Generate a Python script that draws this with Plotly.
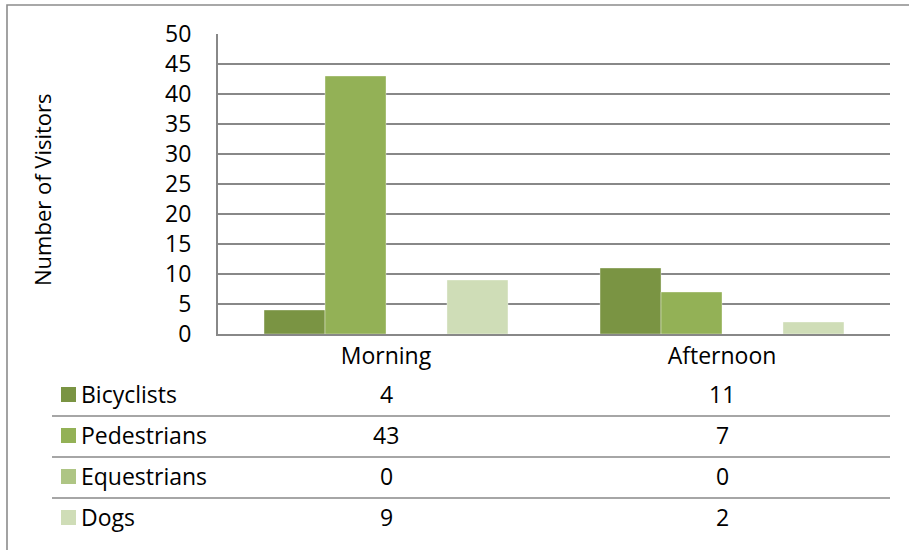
import plotly.graph_objects as go

categories = ["Morning", "Afternoon"]
series_names = ["Bicyclists", "Pedestrians", "Equestrians", "Dogs"]
bicyclists = [4, 11]
pedestrians = [43, 7]
equestrians = [0, 0]
dogs = [9, 2]
series_values = [bicyclists, pedestrians, equestrians, dogs]
colors = ["#7A9443", "#93B156", "#AEC584", "#CFDDB7"]
y_ticks = [0, 5, 10, 15, 20, 25, 30, 35, 40, 45, 50]

W, H = 909, 550
L, R, T, B = 218, 19, 34, 216
PW, PH = W - L - R, H - T - B
FONT = "Open Sans"
FS = 23
GRID = "#888888"


def px_x(x):
    return (x - L) / PW


def px_y(y):
    return (H - B - y) / PH


fig = go.Figure()
for name, vals, col in zip(series_names, series_values, colors):
    fig.add_trace(go.Bar(x=categories, y=vals, name=name,
                         marker=dict(color=col, line=dict(width=0.6, color="rgba(255,255,255,0.6)")),
                         showlegend=False, hoverinfo="skip"))

row_y = [394, 435, 476, 517]
sep_y = [416, 457, 498]
annotations = []
shapes = []
for i, (name, vals, col) in enumerate(zip(series_names, series_values, colors)):
    yp = px_y(row_y[i])
    shapes.append(dict(type="rect", xref="paper", yref="paper",
                       x0=px_x(61), x1=px_x(76), y0=px_y(row_y[i] + 8), y1=px_y(row_y[i] - 7),
                       fillcolor=col, line=dict(width=0)))
    annotations.append(dict(text=name, xref="paper", yref="paper", x=px_x(79), y=yp,
                            xanchor="left", yanchor="middle", showarrow=False,
                            font=dict(family=FONT, size=FS, color="#000")))
    for c, v in zip(categories, vals):
        annotations.append(dict(text=str(v), xref="x", yref="paper", x=c, y=yp,
                                xanchor="center", yanchor="middle", showarrow=False,
                                font=dict(family=FONT, size=FS, color="#000")))
for sy in sep_y:
    shapes.append(dict(type="line", xref="paper", yref="paper",
                       x0=px_x(52), x1=1, y0=px_y(sy), y1=px_y(sy),
                       line=dict(color=GRID, width=1.6)))

# outer border (right and bottom edges fall outside the picture)
shapes.append(dict(type="rect", xref="paper", yref="paper",
                   x0=px_x(7), x1=px_x(915), y0=px_y(560), y1=px_y(5),
                   line=dict(color="#8C8C8C", width=1.6), fillcolor="rgba(0,0,0,0)"))

annotations.append(dict(text="Number of Visitors", xref="paper", yref="paper",
                        x=px_x(42), y=px_y(190), textangle=-90,
                        xanchor="center", yanchor="middle", showarrow=False,
                        font=dict(family=FONT, size=22, color="#000")))

fig.update_layout(
    width=W, height=H,
    margin=dict(l=L, r=R, t=T, b=B),
    paper_bgcolor="white", plot_bgcolor="white",
    barmode="group", bargap=0.274, bargroupgap=0,
    shapes=shapes, annotations=annotations,
    font=dict(family=FONT, size=FS, color="#000"),
)
fig.update_xaxes(showgrid=False, showline=True, linecolor=GRID, linewidth=2,
                 ticks="", tickfont=dict(family=FONT, size=FS), ticklabelstandoff=0)
fig.update_yaxes(range=[0, 50], tickvals=y_ticks, showgrid=True, gridcolor=GRID, gridwidth=1.6,
                 showline=True, linecolor=GRID, linewidth=2, zeroline=False,
                 ticks="", tickfont=dict(family=FONT, size=FS), ticklabelstandoff=20)

fig.write_html("out.html", config={"displayModeBar": False},
               post_script="document.body.style.margin='0';document.body.style.overflow='hidden';")
